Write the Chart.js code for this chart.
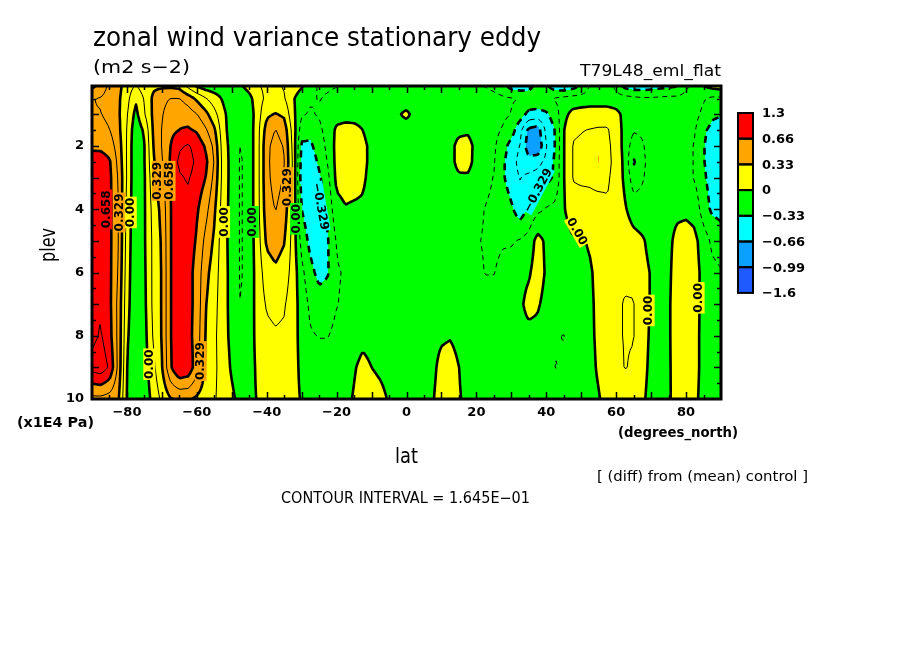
<!DOCTYPE html>
<html>
<head>
<meta charset="utf-8">
<script src="https://cdn.jsdelivr.net/npm/chart.js@4.4.0/dist/chart.umd.min.js"></script>
<style>
html,body{margin:0;padding:0;background:#fff;}
#wrap{position:relative;width:904px;height:654px;}
canvas{display:block;}
</style>
</head>
<body>
<div id="wrap"><canvas id="c" width="904" height="654"></canvas></div>
<script>
// ---------------- DATA ----------------
const LATS = [-90,-87.5,-85,-82.5,-80,-77.5,-75,-72.5,-70,-67.5,-65,-62.5,-60,-57.5,-55,-52.5,-50,-47.5,-45,-42.5,-40,-37.5,-35,-32.5,-30,-27.5,-25,-22.5,-20,-17.5,-15,-12.5,-10,-7.5,-5,-2.5,0,2.5,5,7.5,10,12.5,15,17.5,20,22.5,25,27.5,30,32.5,35,37.5,40,42.5,45,47.5,50,52.5,55,57.5,60,62.5,65,67.5,70,72.5,75,77.5,80,82.5,85,87.5,90];
const PLEVS = [0.1,0.5,1,1.5,2,2.5,3,4,5,6,7,8,9,10];

const P01 = [0.7,0.6,0.45,0.38, 0.25,0.15,0.25,0.3, 0.3,0.3,0.28,0.12, -0.02,-0.08,-0.1,-0.1, -0.1,-0.02,0.06,0.15, 0.2,0.2,0.15,0.1, 0.02,-0.12,-0.18,-0.18, -0.17,-0.15,-0.12,-0.1, -0.1,-0.1,-0.1,-0.1, -0.1,-0.12,-0.17,-0.12, -0.1,-0.1,-0.12,-0.15, -0.15,-0.17,-0.2,-0.25, -0.4,-0.42,-0.4,-0.25, -0.3,-0.42,-0.45,-0.4, -0.3,-0.15,-0.1,-0.12, -0.2,-0.38,-0.42,-0.42, -0.4,-0.38,-0.36,-0.34, -0.2,-0.1,0.0,0.05, 0.08];
const P05 = [0.5,0.48,0.42,0.36, 0.22,0.02,0.18,0.36, 0.45,0.5,0.5,0.42, 0.3,0.18,0.08,-0.02, -0.1,-0.12,-0.05,0.1, 0.2,0.22,0.18,0.02, -0.1,-0.15,-0.17,-0.15, -0.12,-0.1,-0.08,-0.07, -0.07,-0.06,-0.06,-0.05, -0.05,-0.06,-0.08,-0.08, -0.07,-0.07,-0.08,-0.1, -0.1,-0.1,-0.12,-0.14, -0.15,-0.17,-0.2,-0.2, -0.18,-0.15,-0.12,-0.1, -0.1,-0.1,-0.1,-0.1, -0.1,-0.1,-0.12,-0.14, -0.14,-0.13,-0.12,-0.12, -0.1,-0.1,-0.15,-0.2, -0.2];
const P10 = [0.5,0.5,0.45,0.36, 0.18,-0.05,0.15,0.36, 0.48,0.58,0.62,0.58, 0.5,0.38,0.22,0.04, -0.08,-0.14,-0.1,0.1, 0.3,0.34,0.3,0.05, -0.15,-0.18,-0.15,-0.1, -0.06,-0.05,-0.05,-0.05, -0.05,-0.05,-0.05,-0.01, 0.02,-0.03,-0.05,-0.05, -0.05,-0.05,-0.05,-0.06, -0.07,-0.08,-0.1,-0.13, -0.17,-0.25,-0.38,-0.4, -0.36,-0.25,-0.05,0.05, 0.08,0.1,0.1,0.1, 0.05,-0.05,-0.1,-0.1, -0.1,-0.08,-0.08,-0.1, -0.1,-0.12,-0.2,-0.3, -0.32];
const P15 = [0.55,0.55,0.5,0.38, 0.16,-0.12,0.03,0.35, 0.5,0.62,0.66,0.68, 0.64,0.52,0.36,0.06, -0.08,-0.15,-0.1,0.12, 0.4,0.5,0.42,0.1, -0.25,-0.28,-0.2,-0.1, 0.03,0.05,0.04,0.0, -0.05,-0.05,-0.05,-0.05, -0.05,-0.05,-0.05,-0.05, -0.05,-0.05,-0.03,-0.02, -0.06,-0.08,-0.12,-0.18, -0.25,-0.45,-0.7,-0.75, -0.45,-0.33,-0.01,0.15, 0.16,0.17,0.18,0.18, 0.08,-0.05,-0.15,-0.14, -0.1,-0.08,-0.08,-0.1, -0.1,-0.15,-0.3,-0.38, -0.4];
const P20 = [0.62,0.62,0.58,0.42, 0.15,-0.14,-0.01,0.33, 0.5,0.66,0.8,0.84, 0.76,0.64,0.45,0.08, -0.06,-0.17,-0.1,0.12, 0.45,0.56,0.48,0.12, -0.36,-0.36,-0.25,-0.12, 0.05,0.07,0.06,0.03, -0.03,-0.05,-0.05,-0.05, -0.05,-0.05,-0.05,-0.05, -0.05,-0.04,0.04,0.05, -0.04,-0.08,-0.14,-0.25, -0.4,-0.5,-0.75,-0.8, -0.5,-0.33,-0.01,0.17, 0.18,0.2,0.32,0.2, 0.1,-0.06,-0.25,-0.18, -0.1,-0.08,-0.1,-0.12, -0.1,-0.18,-0.32,-0.4, -0.42];
const P25 = [0.75,0.74,0.68,0.45, 0.15,-0.14,-0.01,0.3, 0.48,0.68,0.86,0.9, 0.78,0.7,0.48,0.1, -0.06,-0.18,-0.1,0.12, 0.45,0.58,0.5,0.14, -0.4,-0.42,-0.3,-0.15, 0.05,0.07,0.06,0.03, -0.03,-0.05,-0.05,-0.05, -0.05,-0.05,-0.05,-0.05, -0.05,-0.04,0.04,0.05, -0.05,-0.1,-0.15,-0.3, -0.42,-0.55,-0.6,-0.55, -0.45,-0.3,-0.01,0.17, 0.18,0.2,0.34,0.2, 0.12,-0.05,-0.35,-0.2, -0.1,-0.08,-0.12,-0.17, -0.1,-0.18,-0.32,-0.4, -0.42];
const P30 = [0.8,0.76,0.7,0.48, 0.15,-0.14,-0.02,0.27, 0.45,0.66,0.8,0.84, 0.75,0.66,0.45,0.1, -0.06,-0.18,-0.1,0.12, 0.45,0.56,0.48,0.14, -0.42,-0.45,-0.36,-0.2, 0.04,0.06,0.05,0.02, -0.04,-0.05,-0.05,-0.05, -0.05,-0.05,-0.05,-0.05, -0.05,-0.05,-0.02,-0.02, -0.07,-0.12,-0.17,-0.3, -0.42,-0.5,-0.45,-0.42, -0.38,-0.3,-0.01,0.17, 0.18,0.18,0.2,0.18, 0.12,-0.04,-0.25,-0.18, -0.1,-0.08,-0.1,-0.12, -0.1,-0.18,-0.3,-0.4, -0.42];
const P40 = [0.8,0.78,0.7,0.5, 0.12,-0.14,-0.02,0.22, 0.38,0.66,0.76,0.76, 0.68,0.55,0.36,0.08, -0.06,-0.18,-0.1,0.12, 0.42,0.5,0.42,0.12, -0.33,-0.45,-0.42,-0.28, -0.05,-0.01,-0.02,-0.02, -0.05,-0.05,-0.05,-0.05, -0.05,-0.05,-0.05,-0.05, -0.05,-0.05,-0.06,-0.08, -0.12,-0.17,-0.2,-0.22, -0.3,-0.42,-0.3,-0.2, -0.15,-0.12,-0.02,0.12, 0.12,0.13,0.12,0.15, 0.13,0.02,-0.08,-0.1, -0.08,-0.06,-0.05,-0.04, -0.04,-0.06,-0.25,-0.36, -0.38];
const P50 = [0.8,0.78,0.7,0.5, 0.1,-0.14,-0.02,0.2, 0.35,0.66,0.76,0.74, 0.64,0.45,0.3,0.06, -0.06,-0.18,-0.1,0.1, 0.36,0.4,0.34,0.1, -0.22,-0.38,-0.45,-0.34, -0.15,-0.1,-0.06,-0.05, -0.06,-0.05,-0.05,-0.05, -0.05,-0.05,-0.05,-0.06, -0.06,-0.07,-0.09,-0.12, -0.15,-0.18,-0.2,-0.18, -0.18,-0.15,-0.1,0.06, -0.03,-0.08,-0.1,-0.03, -0.02,0.02,0.08,0.12, 0.15,0.1,0.06,0.02, -0.05,-0.05,-0.04,0.05, 0.08,0.04,-0.08,-0.2, -0.25];
const P60 = [0.8,0.78,0.7,0.48, 0.08,-0.14,-0.03,0.2, 0.34,0.66,0.76,0.72, 0.6,0.38,0.25,0.06, -0.05,-0.18,-0.1,0.08, 0.25,0.3,0.25,0.1, -0.12,-0.28,-0.38,-0.34, -0.18,-0.15,-0.08,-0.06, -0.06,-0.05,-0.05,-0.05, -0.05,-0.05,-0.05,-0.06, -0.06,-0.07,-0.08,-0.1, -0.12,-0.17,-0.17,-0.12, -0.1,-0.05,-0.02,0.08, -0.02,-0.06,-0.08,-0.05, -0.05,-0.02,0.05,0.1, 0.15,0.15,0.14,0.05, -0.01,-0.04,-0.04,0.1, 0.12,0.06,-0.05,-0.12, -0.15];
const P70 = [0.8,0.8,0.7,0.45, 0.06,-0.14,-0.04,0.2, 0.34,0.66,0.76,0.72, 0.6,0.34,0.22,0.06, -0.05,-0.17,-0.1,0.08, 0.18,0.2,0.18,0.08, -0.07,-0.2,-0.25,-0.25, -0.17,-0.14,-0.08,-0.06, -0.06,-0.05,-0.05,-0.05, -0.05,-0.05,-0.05,-0.05, -0.05,-0.05,-0.06,-0.07, -0.08,-0.1,-0.1,-0.08, -0.06,-0.03,0.05,0.02, -0.05,-0.08,-0.08,-0.05, -0.06,-0.03,0.04,0.1, 0.15,0.17,0.17,0.05, -0.01,-0.04,-0.03,0.12, 0.14,0.06,-0.05,-0.12, -0.12];
const P80 = [0.78,0.84,0.72,0.45, 0.03,-0.14,-0.06,0.18, 0.34,0.66,0.76,0.72, 0.58,0.32,0.2,0.06, -0.04,-0.14,-0.08,0.06, 0.13,0.15,0.14,0.06, -0.05,-0.15,-0.17,-0.17, -0.12,-0.1,-0.05,-0.03, -0.04,-0.05,-0.05,-0.05, -0.05,-0.05,-0.05,-0.04, -0.02,-0.01,-0.04,-0.06, -0.06,-0.06,-0.06,-0.06, -0.06,-0.05,-0.05,-0.05, -0.1,-0.15,-0.17,-0.08, -0.06,-0.03,0.03,0.08, 0.15,0.17,0.17,0.05, -0.02,-0.04,-0.03,0.12, 0.14,0.06,-0.06,-0.14, -0.1];
const P90 = [0.88,0.92,0.8,0.45, -0.01,-0.14,-0.08,0.12, 0.32,0.64,0.82,0.78, 0.56,0.3,0.2,0.08, -0.02,-0.1,-0.06,0.03, 0.1,0.12,0.1,0.05, -0.03,-0.08,-0.1,-0.1, -0.08,-0.06,-0.01,0.03, 0.0,-0.02,-0.04,-0.05, -0.04,-0.04,-0.04,-0.03, 0.04,0.06,0.0,-0.04, -0.05,-0.05,-0.05,-0.05, -0.05,-0.05,-0.05,-0.07, -0.1,-0.17,-0.15,-0.06, -0.06,-0.04,0.02,0.08, 0.12,0.17,0.15,0.04, -0.03,-0.05,-0.03,0.1, 0.12,0.05,-0.05,-0.15, -0.1];
const P100 = [0.45,0.45,0.42,0.36, -0.02,-0.14,-0.1,0.05, 0.2,0.32,0.35,0.35, 0.3,0.25,0.18,0.1, 0.03,-0.05,-0.04,0.01, 0.08,0.1,0.08,0.04, -0.01,-0.04,-0.05,-0.05, -0.05,-0.03,0.01,0.06, 0.05,0.03,-0.01,-0.03, -0.03,-0.03,-0.03,-0.01, 0.06,0.07,0.01,-0.03, -0.04,-0.04,-0.04,-0.04, -0.04,-0.04,-0.05,-0.05, -0.06,-0.08,-0.05,-0.05, -0.05,-0.05,-0.01,0.05, 0.08,0.1,0.06,0.02, -0.04,-0.05,-0.02,0.06, 0.08,0.03,-0.05,-0.1, -0.08];

const GRID = [P01,P05,P10,P15,P20,P25,P30,P40,P50,P60,P70,P80,P90,P100];

const CINT = 0.1645;
const FILL_STEPS = [-6,-4,-2,0,2,4];            // colour boundaries in contour-interval units
const FILL_COLORS = ['#1e5aff','#0aa0ff','#00ffff','#00ff00','#ffff00','#ffa500','#ff0000'];
const LEGEND_LABELS = ['1.3','0.66','0.33','0','\u22120.33','\u22120.66','\u22120.99','\u22121.6'];
const LAT_TICKS = [-80,-60,-40,-20,0,20,40,60,80];
const PLEV_TICKS = [2,4,6,8,10];
const CONTOUR_LABELS = [
  {t:'0.658', lat:-85.9, p:4.0, r:-90},
  {t:'0.329', lat:-82.1, p:4.1, r:-90},
  {t:'0.00',  lat:-78.9, p:4.1, r:-90},
  {t:'0.329', lat:-71.2, p:3.1, r:-90},
  {t:'0.658', lat:-67.8, p:3.1, r:-90},
  {t:'0.00',  lat:-52.2, p:4.4, r:-90},
  {t:'0.00',  lat:-44.0, p:4.4, r:-90},
  {t:'0.329', lat:-34.2, p:3.3, r:-90},
  {t:'0.00',  lat:-31.6, p:4.3, r:-90},
  {t:'0.00',  lat:-73.6, p:8.9, r:-90},
  {t:'0.329', lat:-58.9, p:8.8, r:-90},
  {t:'\u22120.329', lat:-24.6, p:3.9, r:80},
  {t:'\u22120.329', lat:37.6, p:3.4, r:-62},
  {t:'0.00',  lat:48.8, p:4.7, r:60},
  {t:'0.00',  lat:69.3, p:7.2, r:-90},
  {t:'0.00',  lat:83.6, p:6.8, r:-90}
];

// ---------------- helpers ----------------
const FILL_BOUNDS = FILL_STEPS.map(n => n * CINT);
const RGB = FILL_COLORS.map(h => [parseInt(h.slice(1,3),16), parseInt(h.slice(3,5),16), parseInt(h.slice(5,7),16)]);
const colorIndex = v => { let k = 0; while (k < FILL_BOUNDS.length && v > FILL_BOUNDS[k]) k++; return k; };
const locate = (arr, v) => {
  const n = arr.length;
  if (v <= arr[0]) return [0, 0];
  if (v >= arr[n-1]) return [n-2, 1];
  let k = 0; while (v > arr[k+1]) k++;
  return [k, (v - arr[k]) / (arr[k+1] - arr[k])];
};
const bil = (i, tx, j, ty) => {
  const r0 = GRID[j], r1 = GRID[j+1];
  return (r0[i]*(1-tx) + r0[i+1]*tx)*(1-ty) + (r1[i]*(1-tx) + r1[i+1]*tx)*ty;
};
const valueAt = (lat, p) => { const [i, tx] = locate(LATS, lat); const [j, ty] = locate(PLEVS, p); return bil(i, tx, j, ty); };
const fmt = v => (v < 0 ? '\u2212' : '') + Math.abs(v);

function traceLevel(F, nx, ny, sx, sy, L) {
  const HO = ny * (nx - 1);
  const segA = [], segB = [];
  const add = (p, q) => { segA.push(p); segB.push(q); };
  for (let j = 0; j < ny - 1; j++) {
    for (let i = 0; i < nx - 1; i++) {
      const a = F[j*nx+i], b = F[j*nx+i+1], c = F[(j+1)*nx+i+1], d = F[(j+1)*nx+i];
      const code = (a > L ? 8 : 0) | (b > L ? 4 : 0) | (c > L ? 2 : 0) | (d > L ? 1 : 0);
      if (code === 0 || code === 15) continue;
      const T = j*(nx-1)+i, B = (j+1)*(nx-1)+i, Le = HO + j*nx + i, R = HO + j*nx + i + 1;
      switch (code) {
        case 1: case 14: add(Le, B); break;
        case 2: case 13: add(B, R); break;
        case 3: case 12: add(Le, R); break;
        case 4: case 11: add(T, R); break;
        case 6: case 9: add(T, B); break;
        case 7: case 8: add(Le, T); break;
        case 5: { const m = (a+b+c+d)/4; if (m > L) { add(Le, T); add(B, R); } else { add(T, R); add(Le, B); } break; }
        case 10: { const m = (a+b+c+d)/4; if (m > L) { add(T, R); add(Le, B); } else { add(Le, T); add(B, R); } break; }
      }
    }
  }
  const pt = (e) => {
    if (e < HO) {
      const j = Math.floor(e/(nx-1)), i = e - j*(nx-1);
      const va = F[j*nx+i], vb = F[j*nx+i+1], t = (L-va)/(vb-va);
      return [sx[i] + t*(sx[i+1]-sx[i]), sy[j]];
    }
    const e2 = e - HO, j = Math.floor(e2/nx), i = e2 - j*nx;
    const va = F[j*nx+i], vb = F[(j+1)*nx+i], t = (L-va)/(vb-va);
    return [sx[i], sy[j] + t*(sy[j+1]-sy[j])];
  };
  const adj = new Map();
  const push = (e, k) => { const l = adj.get(e); if (l) l.push(k); else adj.set(e, [k]); };
  for (let k = 0; k < segA.length; k++) { push(segA[k], k); push(segB[k], k); }
  const used = new Uint8Array(segA.length);
  const lines = [];
  for (let k = 0; k < segA.length; k++) {
    if (used[k]) continue;
    used[k] = 1;
    const chain = [segA[k], segB[k]];
    for (let pass = 0; pass < 2; pass++) {
      while (true) {
        const e = chain[chain.length-1];
        const l = adj.get(e);
        let nxt = -1;
        for (const m of l) if (!used[m]) { nxt = m; break; }
        if (nxt < 0) break;
        used[nxt] = 1;
        chain.push(segA[nxt] === e ? segB[nxt] : segA[nxt]);
      }
      chain.reverse();
    }
    lines.push(chain.map(pt));
  }
  return lines;
}

function fitText(ctx, text, x, y, width, font, baseline) {
  ctx.save();
  ctx.font = font;
  ctx.textAlign = 'left';
  ctx.textBaseline = baseline || 'alphabetic';
  const m = ctx.measureText(text).width;
  ctx.translate(x, y);
  ctx.scale(width / m, 1);
  ctx.fillStyle = '#000';
  ctx.fillText(text, 0, 0);
  ctx.restore();
}

// ---------------- plugin: filled contours ----------------
const fieldPlugin = {
  id: 'field',
  beforeDatasetsDraw(chart) {
    const ctx = chart.ctx, ca = chart.chartArea, xs = chart.scales.x, ys = chart.scales.y;
    const x0 = Math.round(ca.left), y0 = Math.round(ca.top);
    const w = Math.round(ca.right) - x0, h = Math.round(ca.bottom) - y0;
    const cI = new Int32Array(w), cT = new Float32Array(w), rJ = new Int32Array(h), rT = new Float32Array(h);
    for (let px = 0; px < w; px++) { const r = locate(LATS, xs.getValueForPixel(x0 + px + 0.5)); cI[px] = r[0]; cT[px] = r[1]; }
    for (let py = 0; py < h; py++) { const r = locate(PLEVS, ys.getValueForPixel(y0 + py + 0.5)); rJ[py] = r[0]; rT[py] = r[1]; }
    const img = ctx.createImageData(w, h), d = img.data;
    for (let py = 0; py < h; py++) {
      for (let px = 0; px < w; px++) {
        const c = RGB[colorIndex(bil(cI[px], cT[px], rJ[py], rT[py]))];
        const k = (py*w + px)*4;
        d[k] = c[0]; d[k+1] = c[1]; d[k+2] = c[2]; d[k+3] = 255;
      }
    }
    ctx.putImageData(img, x0, y0);

    // contour lines
    const S = 2;
    const nx = Math.ceil(w / S) + 1, ny = Math.ceil(h / S) + 1;
    const sx = new Float32Array(nx), sy = new Float32Array(ny);
    for (let i = 0; i < nx; i++) sx[i] = x0 + Math.min(i*S, w);
    for (let j = 0; j < ny; j++) sy[j] = y0 + Math.min(j*S, h);
    const F = new Float32Array(nx*ny);
    for (let j = 0; j < ny; j++) {
      const p = ys.getValueForPixel(sy[j]);
      for (let i = 0; i < nx; i++) F[j*nx+i] = valueAt(xs.getValueForPixel(sx[i]), p);
    }
    ctx.save();
    ctx.beginPath(); ctx.rect(x0, y0, w, h); ctx.clip();
    ctx.strokeStyle = '#000';
    ctx.lineJoin = 'round'; ctx.lineCap = 'butt';
    for (let n = -10; n <= 10; n++) {
      const L = n * CINT;
      const thick = (n % 2 === 0);
      const lines = traceLevel(F, nx, ny, sx, sy, L);
      if (!lines.length) continue;
      ctx.lineWidth = thick ? 2.6 : 1;
      ctx.setLineDash(L < 0 ? (thick ? [7,5] : [5,4]) : []);
      ctx.beginPath();
      for (const ln of lines) {
        ctx.moveTo(ln[0][0], ln[0][1]);
        for (let q = 1; q < ln.length; q++) ctx.lineTo(ln[q][0], ln[q][1]);
      }
      ctx.stroke();
    }
    ctx.setLineDash([]);
    // contour labels
    ctx.font = 'bold 12px "DejaVu Sans"';
    ctx.textAlign = 'center'; ctx.textBaseline = 'middle';
    for (const lb of CONTOUR_LABELS) {
      const px = xs.getPixelForValue(lb.lat), py = ys.getPixelForValue(lb.p);
      const v = valueAt(lb.lat, lb.p);
      ctx.save();
      ctx.translate(px, py);
      ctx.rotate(lb.r * Math.PI / 180);
      const tw = ctx.measureText(lb.t).width;
      ctx.fillStyle = FILL_COLORS[colorIndex(v)];
      ctx.fillRect(-tw/2 - 1, -6, tw + 2, 12);
      ctx.fillStyle = '#000';
      ctx.fillText(lb.t, 0, 0.5);
      ctx.restore();
    }
    ctx.restore();
  },
  afterDraw(chart) {
    const ctx = chart.ctx, ca = chart.chartArea, xs = chart.scales.x, ys = chart.scales.y;
    ctx.save();
    ctx.strokeStyle = '#000';
    // inner tick marks
    ctx.lineWidth = 1.5;
    ctx.beginPath();
    for (let lat = -85; lat <= 85; lat += 5) {
      const px = Math.round(xs.getPixelForValue(lat)) + 0.5;
      const len = (lat % 10 === 0) ? 7 : 4;
      ctx.moveTo(px, ca.bottom); ctx.lineTo(px, ca.bottom - len);
      ctx.moveTo(px, ca.top); ctx.lineTo(px, ca.top + len);
    }
    for (let p = 0.5; p < 10; p += 0.5) {
      const py = Math.round(ys.getPixelForValue(p)) + 0.5;
      const len = (Math.abs(p - Math.round(p)) < 1e-6) ? 7 : 4;
      ctx.moveTo(ca.left, py); ctx.lineTo(ca.left + len, py);
      ctx.moveTo(ca.right, py); ctx.lineTo(ca.right - len, py);
    }
    ctx.stroke();
    // frame
    ctx.lineWidth = 3;
    ctx.strokeRect(ca.left, ca.top, ca.right - ca.left, ca.bottom - ca.top);

    // colour bar
    const cbX = ca.right + 17, cbW = 15, cbTop = ca.top + 27, bh = 25.7;
    const n = FILL_COLORS.length;
    for (let k = 0; k < n; k++) {
      const y = cbTop + k*bh;
      ctx.fillStyle = FILL_COLORS[n - 1 - k];
      ctx.fillRect(cbX, y, cbW, bh);
    }
    ctx.lineWidth = 2;
    for (let k = 0; k < n; k++) ctx.strokeRect(cbX, cbTop + k*bh, cbW, bh);
    ctx.fillStyle = '#000';
    ctx.font = 'bold 13px "DejaVu Sans"';
    ctx.textAlign = 'left'; ctx.textBaseline = 'middle';
    LEGEND_LABELS.forEach((t, k) => ctx.fillText(t, cbX + 24, cbTop + k*bh + 1));

    // texts
    fitText(ctx, 'zonal wind variance stationary eddy', 93, 46, 448, '26px "DejaVu Sans"');
    fitText(ctx, '(m2 s\u22122)', 93, 73, 97, '18px "DejaVu Sans"');
    fitText(ctx, 'T79L48_eml_flat', 580, 76, 141, '16px "DejaVu Sans"');
    fitText(ctx, 'lat', 395, 463, 23, '22px "DejaVu Sans"');
    fitText(ctx, '(x1E4 Pa)', 17, 427, 77, 'bold 14px "DejaVu Sans"');
    fitText(ctx, '(degrees_north)', 618, 437, 120, 'bold 14px "DejaVu Sans"');
    fitText(ctx, '[ (diff) from (mean) control ]', 597, 481, 211, '14px "DejaVu Sans"');
    fitText(ctx, 'CONTOUR INTERVAL = 1.645E\u221201', 281, 503, 249, '15px "DejaVu Sans"');
    // y axis title (rotated)
    ctx.save();
    ctx.translate(55, 262);
    ctx.rotate(-Math.PI / 2);
    fitText(ctx, 'plev', 0, 0, 34, '21px "DejaVu Sans"');
    ctx.restore();
    ctx.restore();
  }
};

// ---------------- chart ----------------
const points = [];
GRID.forEach((row, j) => row.forEach((v, i) => points.push({x: LATS[i], y: PLEVS[j], v: v})));

const tickFont = {family: 'DejaVu Sans', size: 13, weight: 'bold'};
new Chart(document.getElementById('c'), {
  type: 'scatter',
  data: { datasets: [{ data: points, pointRadius: 0, pointHoverRadius: 0, showLine: false }] },
  plugins: [fieldPlugin],
  options: {
    responsive: false,
    animation: false,
    devicePixelRatio: 1,
    events: [],
    layout: { padding: { left: 52, right: 183, top: 86, bottom: 225 } },
    plugins: { legend: { display: false }, title: { display: false }, tooltip: { enabled: false } },
    scales: {
      x: {
        type: 'linear', min: -90, max: 90,
        afterBuildTicks: s => { s.ticks = LAT_TICKS.map(v => ({value: v})); },
        afterFit: s => { s.height = 30; },
        grid: { display: false, drawTicks: false },
        border: { display: false },
        ticks: { color: '#000', font: tickFont, padding: 6, maxRotation: 0, autoSkip: false, callback: v => fmt(v) }
      },
      y: {
        type: 'linear', min: 0.1, max: 10, reverse: true,
        afterBuildTicks: s => { s.ticks = PLEV_TICKS.map(v => ({value: v})); },
        afterFit: s => { s.width = 40; },
        grid: { display: false, drawTicks: false },
        border: { display: false },
        ticks: { color: '#000', font: tickFont, padding: 8, autoSkip: false, callback: v => fmt(v) }
      }
    }
  }
});
</script>
</body>
</html>
